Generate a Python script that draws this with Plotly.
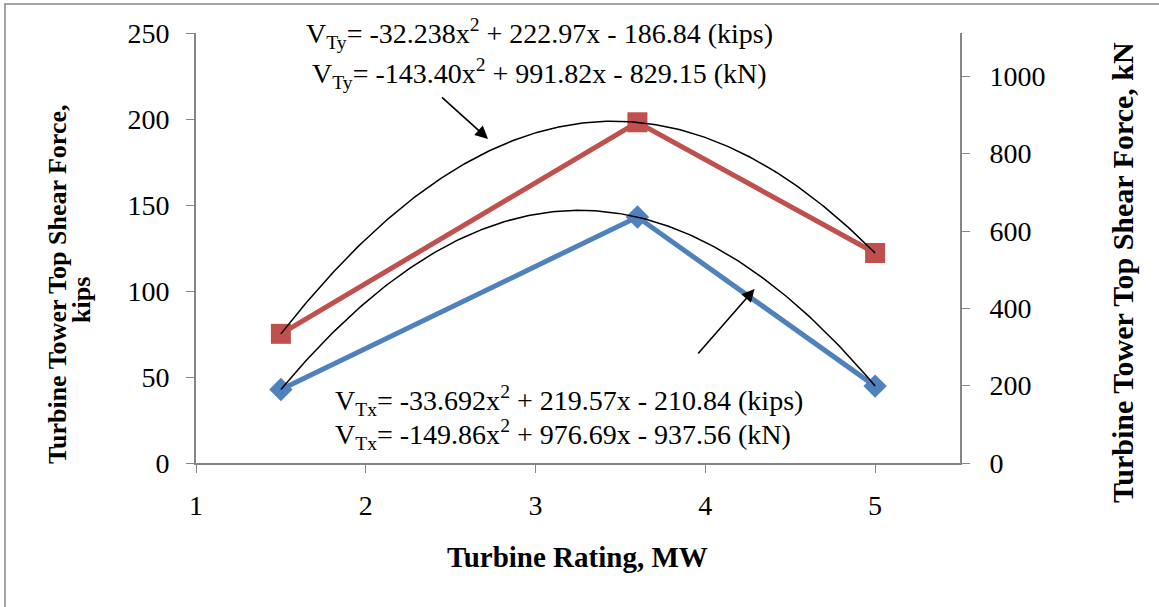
import numpy as np
import plotly.graph_objects as go

# Data
rating_mw = [1.5, 3.6, 5.0]
vtx_kips = [42.7, 143.0, 44.7]
vty_kips = [75.1, 198.1, 122.1]
tx_coef = [-33.692, 219.57, -210.84]
ty_coef = [-32.238, 222.97, -186.84]
kips_to_kn = 4.44822

x_ticks = [1, 2, 3, 4, 5]
y_ticks = [0, 50, 100, 150, 200, 250]
y2_ticks = [0, 200, 400, 600, 800, 1000]

FONT = "Liberation Serif"
AX = "#868686"

xs = np.linspace(min(rating_mw), max(rating_mw), 200)

fig = go.Figure()
fig.add_trace(go.Scatter(x=rating_mw, y=vty_kips, mode="lines+markers",
                         line=dict(color="#C0504D", width=5),
                         marker=dict(symbol="square", size=20, color="#C0504D"),
                         showlegend=False))
fig.add_trace(go.Scatter(x=rating_mw, y=vtx_kips, mode="lines+markers",
                         line=dict(color="#4F81BD", width=5),
                         marker=dict(symbol="diamond", size=18, color="#4F81BD"),
                         showlegend=False))
fig.add_trace(go.Scatter(x=xs, y=np.polyval(ty_coef, xs), mode="lines",
                         line=dict(color="black", width=1.5), showlegend=False))
fig.add_trace(go.Scatter(x=xs, y=np.polyval(tx_coef, xs), mode="lines",
                         line=dict(color="black", width=1.5), showlegend=False))
fig.add_trace(go.Scatter(x=[None], y=[None], yaxis="y2", showlegend=False))

tick_font = dict(family=FONT, size=28, color="black")
title_font = dict(family=FONT, size=29, color="black")

fig.update_layout(
    width=1159, height=607,
    margin=dict(l=196, r=199, t=33, b=144),
    paper_bgcolor="white", plot_bgcolor="white",
    xaxis=dict(range=[1, 5.5], tickvals=x_ticks, ticks="outside", ticklen=8,
               tickcolor=AX, showline=True, linecolor=AX, linewidth=2,
               showgrid=False, zeroline=False, tickfont=tick_font,
               ticklabelstandoff=8),
    yaxis=dict(range=[0, 250], tickvals=y_ticks, ticks="outside", ticklen=8,
               tickcolor=AX, showline=True, linecolor=AX, linewidth=2,
               showgrid=False, zeroline=False, tickfont=tick_font,
               ticklabelstandoff=11),
    yaxis2=dict(range=[0, 250 * kips_to_kn], tickvals=y2_ticks, overlaying="y",
                side="right", ticks="outside", ticklen=8, tickcolor=AX,
                showline=True, linecolor=AX, linewidth=2, showgrid=False,
                zeroline=False, tickfont=tick_font, ticklabelstandoff=14),
)

eq_font = dict(family=FONT, size=28, color="black")

anns = [
    dict(x=3.024, y=250, xref="x", yref="y", showarrow=False, xanchor="center", yanchor="middle",
         text="V<sub>Ty</sub>= -32.238x<sup>2</sup> + 222.97x - 186.84 (kips)", font=eq_font),
    dict(x=3.024, y=226.7, xref="x", yref="y", showarrow=False, xanchor="center", yanchor="middle",
         text="V<sub>Ty</sub>= -143.40x<sup>2</sup> + 991.82x - 829.15 (kN)", font=eq_font),
    dict(x=1.806, y=36.6, xref="x", yref="y", showarrow=False, xanchor="left", yanchor="middle",
         text="V<sub>Tx</sub>= -33.692x<sup>2</sup> + 219.57x - 210.84 (kips)", font=eq_font),
    dict(x=1.806, y=16.3, xref="x", yref="y", showarrow=False, xanchor="left", yanchor="middle",
         text="V<sub>Tx</sub>= -149.86x<sup>2</sup> + 976.69x - 937.56 (kN)", font=eq_font),
    dict(x=2.72, y=188.4, ax=2.44, ay=213.4, xref="x", yref="y", axref="x", ayref="y",
         showarrow=True, arrowhead=2, arrowsize=1.6, arrowwidth=1.6, arrowcolor="black", text=""),
    dict(x=4.29, y=101.2, ax=3.95, ay=62.8, xref="x", yref="y", axref="x", ayref="y",
         showarrow=True, arrowhead=2, arrowsize=1.6, arrowwidth=1.6, arrowcolor="black", text=""),
    # axis titles
    dict(x=(577 - 196) / 764, y=(463 - 557) / 430, xref="paper", yref="paper", showarrow=False,
         xanchor="center", yanchor="middle", text="<b>Turbine Rating, MW</b>", font=title_font),
    dict(x=(57 - 196) / 764, y=(463 - 284) / 430, xref="paper", yref="paper", showarrow=False,
         xanchor="center", yanchor="middle", textangle=-90,
         text="<b>Turbine Tower Top Shear Force,</b>", font=dict(family=FONT, size=26, color="black")),
    dict(x=(81 - 196) / 764, y=(463 - 300) / 430, xref="paper", yref="paper", showarrow=False,
         xanchor="center", yanchor="middle", textangle=-90,
         text="<b>kips</b>", font=dict(family=FONT, size=26, color="black")),
    dict(x=(1122 - 196) / 764, y=(463 - 273) / 430, xref="paper", yref="paper", showarrow=False,
         xanchor="center", yanchor="middle", textangle=-90,
         text="<b>Turbine Tower Top Shear Force, kN</b>", font=dict(family=FONT, size=30, color="black")),
]
fig.update_layout(annotations=anns)

fig.add_shape(type="rect", xref="paper", yref="paper",
              x0=(5 - 196) / 764, x1=(1175 - 196) / 764,
              y0=(463 - 620) / 430, y1=(463 - 4) / 430,
              line=dict(color=AX, width=1.5), fillcolor="rgba(0,0,0,0)", layer="below")

fig.write_html("out.html")
